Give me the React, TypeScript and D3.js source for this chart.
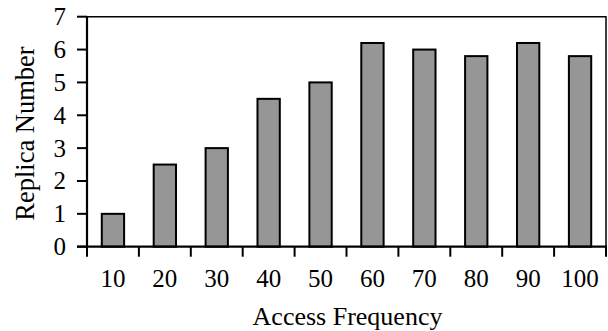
import React, { useEffect, useRef } from 'react';
import * as d3 from 'd3';

const categories = ['10', '20', '30', '40', '50', '60', '70', '80', '90', '100'];
const replicas = [1, 2.5, 3, 4.5, 5, 6.2, 6, 5.8, 6.2, 5.8];
const yTicks = [0, 1, 2, 3, 4, 5, 6, 7];

const W = 608;
const H = 331;
const FONT = '"Liberation Serif", "Times New Roman", serif';

const App = () => {
  const ref = useRef<SVGSVGElement>(null);

  useEffect(() => {
    const svg = d3.select(ref.current);
    svg.selectAll('*').remove();

    const left = 87, right = 606, top = 16.7, bottom = 246.7;

    const x = d3.scaleBand<string>().domain(categories).range([left, right]).padding(0);
    const y = d3.scaleLinear().domain([0, 7]).range([bottom, top]);
    const bw = x.bandwidth() * 0.43;

    // frame (top + right)
    svg.append('path')
      .attr('d', `M${left},${top}H${right}V${bottom}`)
      .attr('fill', 'none')
      .attr('stroke', '#000')
      .attr('stroke-width', 1.5);

    // bars
    svg.append('g')
      .selectAll('rect')
      .data(replicas)
      .join('rect')
      .attr('x', (d, i) => x(categories[i])! + (x.bandwidth() - bw) / 2)
      .attr('y', d => y(d))
      .attr('width', bw)
      .attr('height', d => bottom - y(d))
      .attr('fill', '#969696')
      .attr('stroke', '#000')
      .attr('stroke-width', 2);

    // y axis
    const ya = svg.append('g');
    ya.append('line')
      .attr('x1', left).attr('x2', left)
      .attr('y1', top).attr('y2', bottom)
      .attr('stroke', '#000').attr('stroke-width', 2.2);
    ya.selectAll('line.t')
      .data(yTicks)
      .join('line')
      .attr('class', 't')
      .attr('x1', left - 10).attr('x2', left)
      .attr('y1', d => y(d)).attr('y2', d => y(d))
      .attr('stroke', '#000').attr('stroke-width', 2);
    ya.selectAll('text')
      .data(yTicks)
      .join('text')
      .attr('x', 66)
      .attr('y', d => y(d))
      .attr('dy', '0.34em')
      .attr('text-anchor', 'end')
      .attr('font-family', FONT)
      .attr('font-size', 25)
      .text(d => d);

    // x axis
    const xa = svg.append('g');
    xa.append('line')
      .attr('x1', left - 10).attr('x2', right + 1)
      .attr('y1', bottom).attr('y2', bottom)
      .attr('stroke', '#000').attr('stroke-width', 2.2);
    const edges = categories.map(c => x(c)!).concat([right]);
    xa.selectAll('line.t')
      .data(edges)
      .join('line')
      .attr('class', 't')
      .attr('x1', d => d).attr('x2', d => d)
      .attr('y1', bottom).attr('y2', bottom + 10)
      .attr('stroke', '#000').attr('stroke-width', 2);
    xa.selectAll('text')
      .data(categories)
      .join('text')
      .attr('x', d => x(d)! + x.bandwidth() / 2)
      .attr('y', 286.5)
      .attr('text-anchor', 'middle')
      .attr('font-family', FONT)
      .attr('font-size', 25)
      .text(d => d);

    svg.append('text')
      .attr('x', 347.5)
      .attr('y', 325)
      .attr('text-anchor', 'middle')
      .attr('font-family', FONT)
      .attr('font-size', 26)
      .text('Access Frequency');

    svg.append('text')
      .attr('transform', `translate(33.5,133.5) rotate(-90)`)
      .attr('text-anchor', 'middle')
      .attr('font-family', FONT)
      .attr('font-size', 26.5)
      .text('Replica Number');
  }, []);

  return (
    <svg ref={ref} width={W} height={H} style={{ position: 'absolute', left: 0, top: 0, background: '#fff' }} />
  );
};

export default App;
